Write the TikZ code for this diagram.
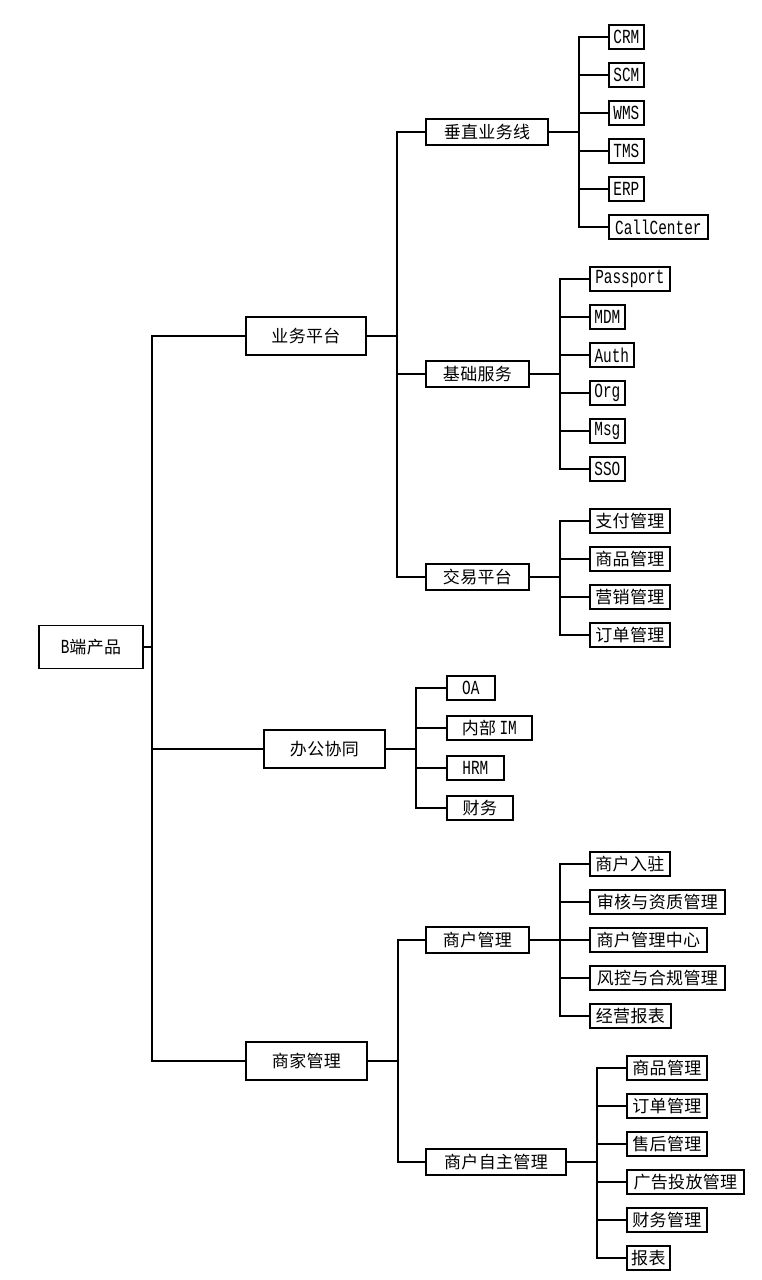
\documentclass[tikz,border=0pt]{standalone}
\usepackage{fontspec}
\setmainfont{Noto Sans CJK SC}[LetterSpace=2]
\newfontfamily\lat[FakeStretch=0.72]{Liberation Mono}
\newcommand\eng[1]{{\lat\fontsize{20}{20}\selectfont #1}}

\tikzset{
  box/.style={draw, line width=1.7pt, inner sep=0pt, fill=white,
    font=\fontsize{17}{17}\selectfont},
  top/.style={box, minimum height=38pt},
  mid/.style={box, minimum height=26pt},
  leaf/.style={box, minimum height=24pt, anchor=west},
  link/.style={line width=1.7pt}
}

\begin{document}
\begin{tikzpicture}[x=1pt,y=-1pt]
  \useasboundingbox (0,0) rectangle (761,1280);
  % root
  \node[box, minimum width=104pt, minimum height=43pt] (root) at (91,647) {\eng{B}端产品};
  % first level
  \node[top, minimum width=120pt] (yw) at (306,336) {业务平台};
  \node[top, minimum width=121pt] (bg) at (324.5,749) {办公协同};
  \node[top, minimum width=121pt] (sj) at (306.5,1061) {商家管理};
  \foreach \c in {yw,bg,sj}
    \draw[link] (root.east) -- ++(8,0) |- (\c.west);
  % second level
  \node[mid, minimum width=122pt] (cz) at (487,132) {垂直业务线};
  \node[mid, minimum width=103pt] (jc) at (477.5,374) {基础服务};
  \node[mid, minimum width=103pt] (jy) at (477.5,577) {交易平台};
  \foreach \c in {cz,jc,jy}
    \draw[link] (yw.east) -- ++(30,0) |- (\c.west);
  \node[mid, minimum width=103pt] (sh) at (477.5,940) {商户管理};
  \node[mid, minimum width=140pt] (zz) at (496,1162) {商户自主管理};
  \foreach \c in {sh,zz}
    \draw[link] (sj.east) -- ++(30,0) |- (\c.west);
  % leaves
  \foreach \t/\w [count=\i] in {CRM/35,SCM/35,WMS/35,TMS/35,ERP/35,CallCenter/99} {
    \node[leaf, minimum width=\w pt] (cz\i) at (608,{37+38*(\i-1)}) {\eng{\t}};
    \draw[link] (cz.east) -- ++(30,0) |- (cz\i.west);
  }
  \foreach \t/\w [count=\i] in {Passport/80,MDM/35,Auth/44,Org/35,Msg/35,SSO/35} {
    \node[leaf, minimum width=\w pt] (jc\i) at (589,{279+38*(\i-1)}) {\eng{\t}};
    \draw[link] (jc.east) -- ++(30,0) |- (jc\i.west);
  }
  \foreach \t [count=\i] in {支付管理,商品管理,营销管理,订单管理} {
    \node[leaf, minimum width=80pt] (jy\i) at (589,{521+38*(\i-1)}) {\t};
    \draw[link] (jy.east) -- ++(30,0) |- (jy\i.west);
  }
  \foreach \t/\w [count=\i] in {\eng{OA}/48,内部\eng{\,IM}/85,\eng{HRM}/57,财务/66} {
    \node[leaf, minimum width=\w pt] (bg\i) at (446,{688+40*(\i-1)}) {\t};
    \draw[link] (bg.east) -- ++(30,0) |- (bg\i.west);
  }
  \foreach \t/\w [count=\i] in {商户入驻/80,审核与资质管理/135,商户管理中心/117,风控与合规管理/135,经营报表/81} {
    \node[leaf, minimum width=\w pt] (sh\i) at (589,{864+38*(\i-1)}) {\t};
    \draw[link] (sh.east) -- ++(30,0) |- (sh\i.west);
  }
  \foreach \t/\w [count=\i] in {商品管理/80,订单管理/80,售后管理/80,广告投放管理/117,财务管理/80,报表/43} {
    \node[leaf, minimum width=\w pt] (zz\i) at (626,{1068+38*(\i-1)}) {\t};
    \draw[link] (zz.east) -- ++(30,0) |- (zz\i.west);
  }
\end{tikzpicture}
\end{document}
